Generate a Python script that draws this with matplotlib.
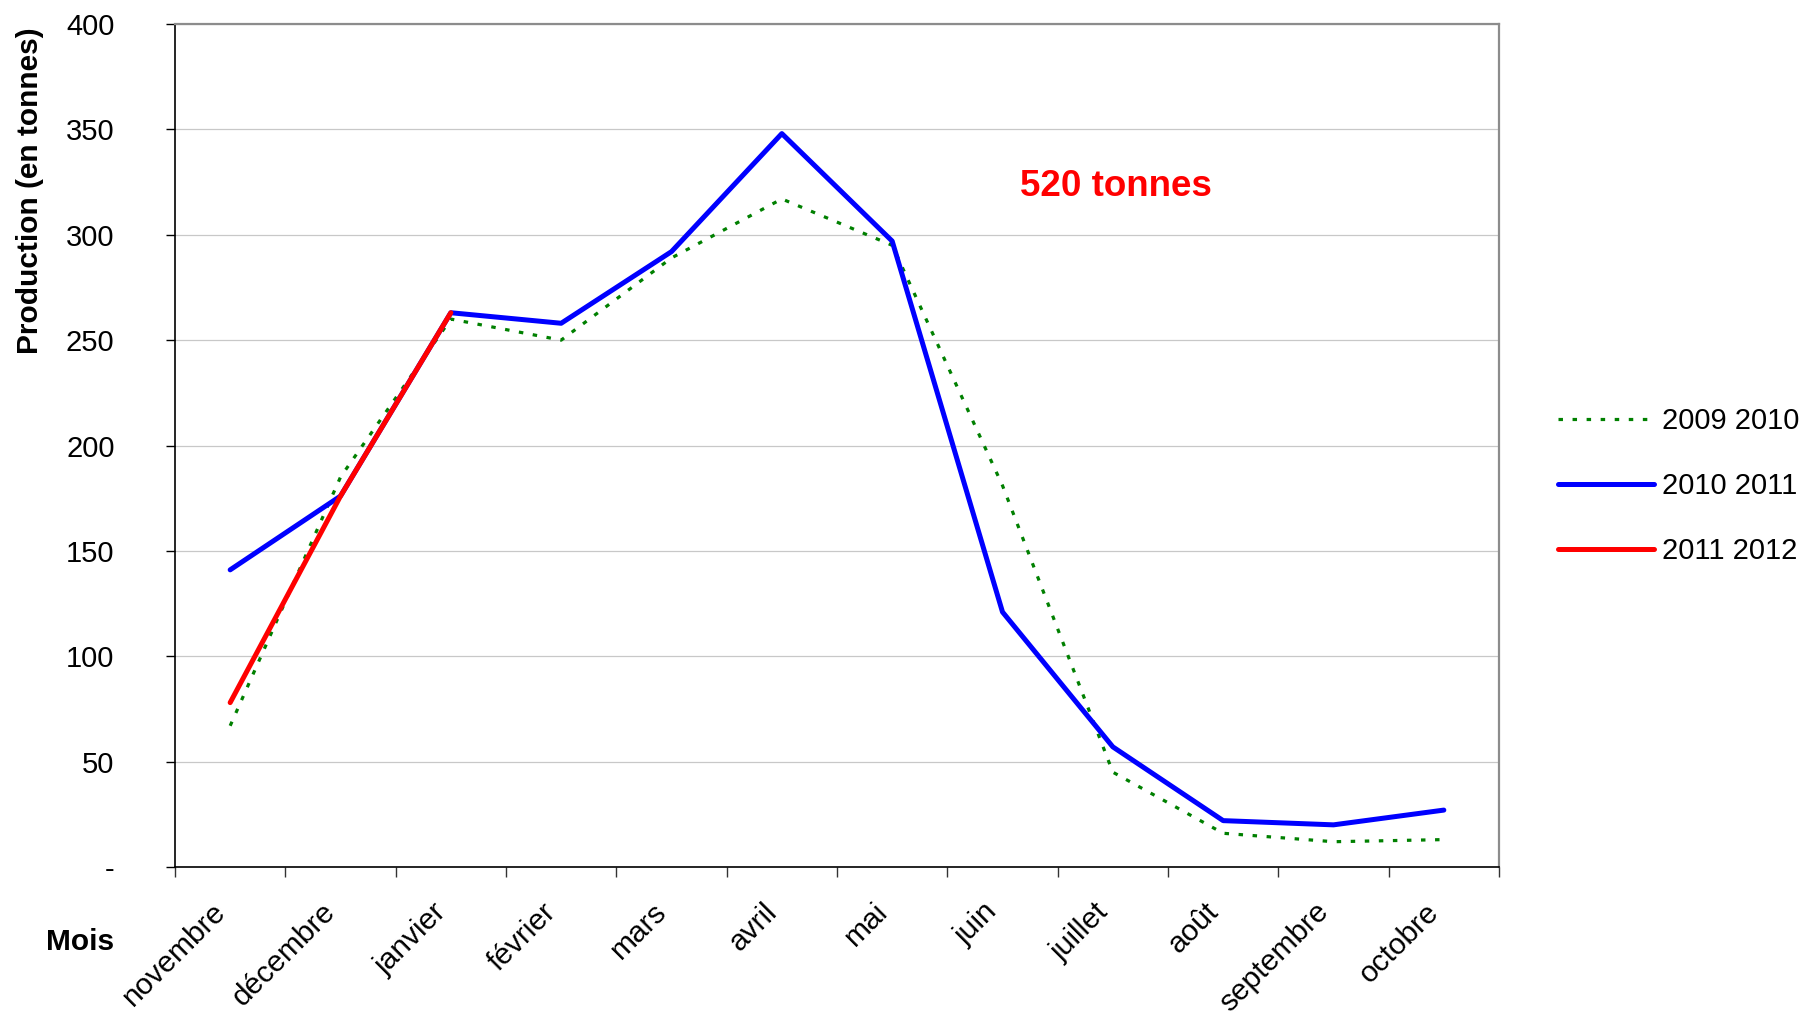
"""
Production mensuelle (en tonnes), trois campagnes.
"""
import numpy as np
import matplotlib
matplotlib.use('Agg')
import matplotlib.pyplot as plt
import matplotlib.transforms as mtransforms

plt.rcParams['font.family'] = ['Liberation Sans', 'DejaVu Sans']

# mois de la campagne
mois = ['novembre', 'décembre', 'janvier', 'février', 'mars', 'avril',
        'mai', 'juin', 'juillet', 'août', 'septembre', 'octobre']

# production en tonnes
prod_2009_2010 = [67, 185, 260, 250, 289, 317, 295, 181, 45, 16, 12, 13]
prod_2010_2011 = [141, 176, 263, 258, 292, 348, 297, 121, 57, 22, 20, 27]
prod_2011_2012 = [78, 176, 263]

y_ticks = [0, 50, 100, 150, 200, 250, 300, 350, 400]
y_labels = ['-', '50', '100', '150', '200', '250', '300', '350', '400']

W, H = 1803, 1013
fig = plt.figure(figsize=(W / 100, H / 100), dpi=100)
ax = fig.add_axes([175 / W, 1 - 867 / H, 1324 / W, 843 / H])

x = np.arange(len(mois))
l1, = ax.plot(x, prod_2009_2010, color='#008000', lw=2.3,
              linestyle=(0, (1.4, 3.0)), label='2009 2010', zorder=3)
l2, = ax.plot(x, prod_2010_2011, color='#0000FF', lw=3.6,
              solid_capstyle='round', label='2010 2011', zorder=4)
l3, = ax.plot(x[:len(prod_2011_2012)], prod_2011_2012, color='#FF0000', lw=3.6,
              solid_capstyle='round', label='2011 2012', zorder=5)

ax.set_xlim(-0.5, len(mois) - 0.5)
ax.set_ylim(0, 400)

# y axis
ax.set_yticks(y_ticks)
ax.set_yticklabels(y_labels, fontsize=21)
ax.tick_params(axis='y', direction='out', length=6.5, width=1, pad=37)
ax.yaxis.grid(True, color='#c8c8c8', lw=0.9)
ax.set_axisbelow(True)

# x axis: ticks between months, labels on months
ax.set_xticks(np.arange(-0.5, len(mois)), labels=[''] * (len(mois) + 1))
ax.tick_params(axis='x', which='major', direction='out', length=7.2, width=1,
               color='#333333')
ax.set_xticks(x, labels=mois, minor=True)
ax.tick_params(axis='x', which='minor', length=0, pad=22, labelsize=21.5)
shift = mtransforms.ScaledTranslation(-19 / 100, 0, fig.dpi_scale_trans)
for lab in ax.get_xticklabels(minor=True):
    lab.set_rotation(45)
    lab.set_ha('right')
    lab.set_va('top')
    lab.set_rotation_mode('anchor')
    lab.set_transform(lab.get_transform() + shift)

for s in ['top', 'right']:
    ax.spines[s].set_color('#8c8c8c')
    ax.spines[s].set_linewidth(1.6)
for s in ['left', 'bottom']:
    ax.spines[s].set_color('black')
    ax.spines[s].set_linewidth(1.2)

fig.text(30 / W, 1 - 191 / H, 'Production (en tonnes)', rotation=90,
         ha='center', va='center', fontsize=21.5, fontweight='bold')
fig.text(80 / W, 1 - 942 / H, 'Mois', ha='center', va='center',
         fontsize=21.5, fontweight='bold')
fig.text(1116 / W, 1 - 187 / H, '520 tonnes', ha='center', va='center',
         fontsize=26.5, fontweight='bold', color='#FF0000')

fig.legend(handles=[l1, l2, l3], loc='center left',
           bbox_to_anchor=(1558 / W, 1 - 486 / H), frameon=False,
           fontsize=21, handlelength=3.3, handletextpad=0.25,
           labelspacing=1.27, borderpad=0, borderaxespad=0)

fig.savefig('out.png', dpi=100)
